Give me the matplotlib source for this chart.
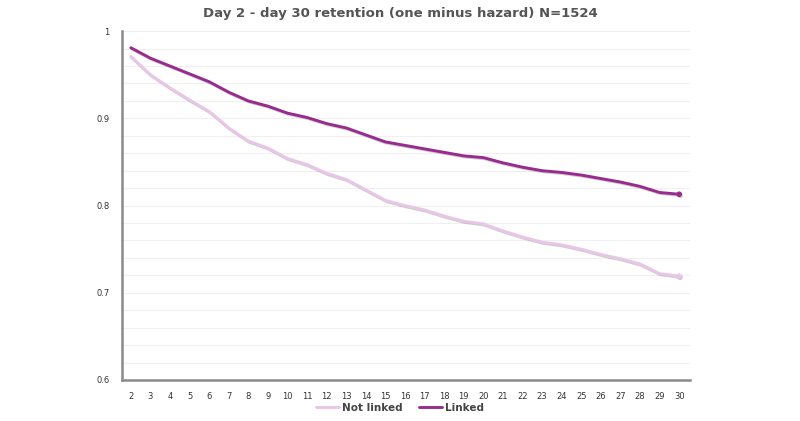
import matplotlib
matplotlib.use("Agg")
import matplotlib.pyplot as plt
import matplotlib.patheffects as pe
from matplotlib.ticker import MultipleLocator, FuncFormatter

days = list(range(2, 31))
not_linked = [0.971, 0.950, 0.935, 0.921, 0.908, 0.889, 0.874, 0.866, 0.854, 0.847,
              0.837, 0.830, 0.818, 0.806, 0.800, 0.795, 0.788, 0.782, 0.779, 0.771,
              0.764, 0.758, 0.755, 0.750, 0.744, 0.739, 0.733, 0.722, 0.719]
linked = [0.981, 0.969, 0.960, 0.951, 0.942, 0.930, 0.920, 0.914, 0.906, 0.901,
          0.894, 0.889, 0.881, 0.873, 0.869, 0.865, 0.861, 0.857, 0.855, 0.849,
          0.844, 0.840, 0.838, 0.835, 0.831, 0.827, 0.822, 0.815, 0.813]

title = "Day 2 - day 30 retention (one minus hazard) N=1524"

fig = plt.figure(figsize=(8, 4.21), dpi=100)
ax = fig.add_axes([0.1525, 0.0974, 0.71, 0.8286])

# soft drop shadow under the lines, like the original
shadow = [pe.SimpleLineShadow(offset=(0.6, -0.8), shadow_color="#555555", alpha=0.3), pe.Normal()]

ax.plot(days, not_linked, color="#e9c6e8", lw=2.1, label="Not linked",
        path_effects=shadow, marker="o", markersize=3, markevery=[-1], solid_capstyle="round")
ax.plot(days, linked, color="#992b8f", lw=2.1, label="Linked",
        path_effects=shadow, marker="o", markersize=3, markevery=[-1], solid_capstyle="round")

ax.set_xlim(1.55, 30.55)
ax.set_ylim(0.6, 1.0)
ax.set_xticks(days)
ax.yaxis.set_major_locator(MultipleLocator(0.1))
ax.yaxis.set_minor_locator(MultipleLocator(0.02))
ax.yaxis.set_major_formatter(FuncFormatter(lambda v, p: f"{v:g}"))
ax.grid(True, which="both", axis="y", color="#f0f0f0", lw=0.8)
ax.set_axisbelow(True)

for s in ["top", "right"]:
    ax.spines[s].set_visible(False)
for s in ["left", "bottom"]:
    ax.spines[s].set_color("#8a8a8a")
    ax.spines[s].set_linewidth(1.8)

ax.tick_params(axis="both", which="both", length=0, labelsize=6, labelcolor="#333333")
ax.tick_params(axis="x", pad=9)
ax.tick_params(axis="y", pad=9)

fig.text(0.5, 1 - 14 / 421, title, ha="center", va="center",
         fontsize=9.5, fontweight="bold", color="#555555")

leg = fig.legend(loc="center", bbox_to_anchor=(0.5, 0.031), ncol=2, frameon=False,
                 fontsize=7.5, handlelength=2.2, handletextpad=0.3, columnspacing=1.6)
for t in leg.get_texts():
    t.set_color("#444444")
    t.set_fontweight("bold")
for h in leg.legend_handles:
    h.set_path_effects([])
    h.set_marker("")

fig.savefig("out.png", dpi=100)
